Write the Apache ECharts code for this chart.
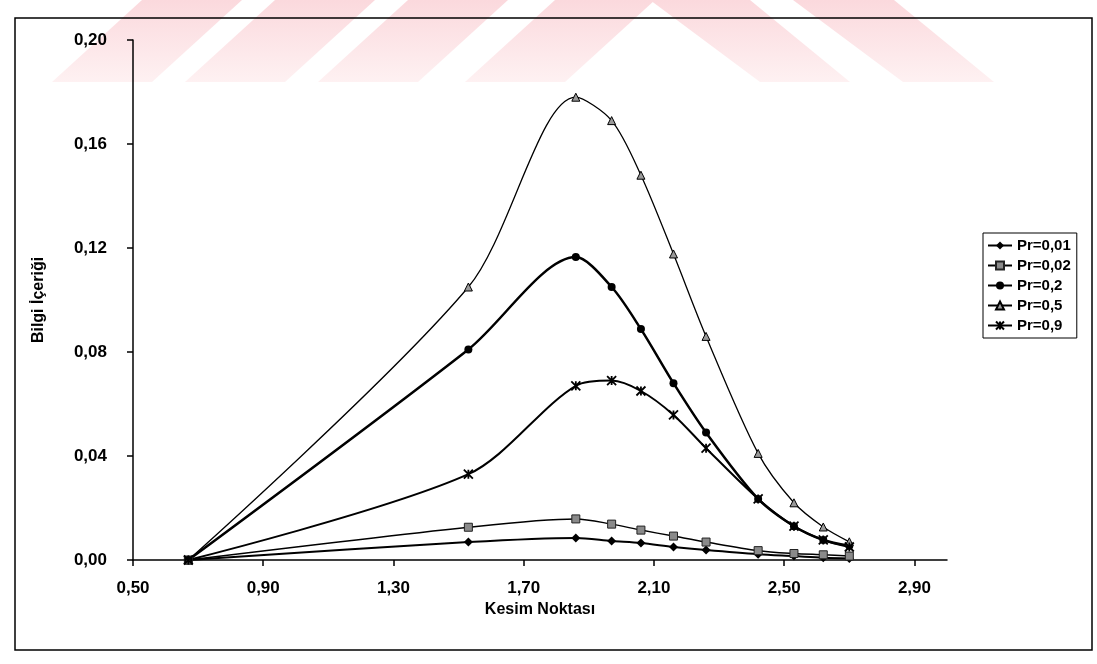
<!DOCTYPE html>
<html lang="tr">
<head>
<meta charset="UTF-8">
<title>Bilgi İçeriği</title>
<script src="https://cdn.jsdelivr.net/npm/echarts@6/dist/echarts.min.js"></script>
<style>
  html, body { margin: 0; padding: 0; background: #fff; }
  #chart { width: 1097px; height: 664px; }
</style>
</head>
<body>
<div id="chart"></div>
<script>
  // kesim noktalari (x)
  var kesim = [0.67, 1.53, 1.86, 1.97, 2.06, 2.16, 2.26, 2.42, 2.53, 2.62, 2.70];
  var xTicks = [0.5, 0.9, 1.3, 1.7, 2.1, 2.5, 2.9];

  // bilgi icerigi, her Pr icin
  var pr001 = [0, 0.0069, 0.0085, 0.0073, 0.0065, 0.0050, 0.0038, 0.0022, 0.0015, 0.0009, 0.0006];
  var pr002 = [0, 0.0126, 0.0158, 0.0138, 0.0115, 0.0092, 0.0069, 0.0036, 0.0025, 0.0020, 0.0015];
  var pr02  = [0, 0.0810, 0.1165, 0.1050, 0.0888, 0.0680, 0.0490, 0.0235, 0.0130, 0.0077, 0.0055];
  var pr05  = [0, 0.1050, 0.1780, 0.1690, 0.1480, 0.1177, 0.0860, 0.0410, 0.0220, 0.0127, 0.0070];
  var pr09  = [0, 0.0330, 0.0670, 0.0690, 0.0650, 0.0558, 0.0430, 0.0235, 0.0130, 0.0077, 0.0050];

  var seriesNames = ['Pr=0,01', 'Pr=0,02', 'Pr=0,2', 'Pr=0,5', 'Pr=0,9'];

  var font = "'Liberation Sans', Arial, sans-serif";
  var crossPath = 'path://M0,0L10,10M10,0L0,10M5,0L5,10';

  function pairs(ys) {
    return ys.map(function (y, i) { return [kesim[i], y]; });
  }

  function comma(v) {
    return v.toFixed(2).replace('.', ',');
  }

  function line(name, ys, symbol, size, width, fill, border, bw) {
    return {
      name: name,
      type: 'line',
      data: pairs(ys),
      smooth: 0.3,
      symbol: symbol,
      symbolSize: size,
      lineStyle: { color: '#000', width: width },
      itemStyle: { color: fill, borderColor: border, borderWidth: bw },
      emphasis: { disabled: true }
    };
  }

  // pembe filigran seritleri (ust kenar)
  var stripes = [];
  [52, 185, 318, 465].forEach(function (a) {
    stripes.push([[a, 82], [a + 100, 82], [a + 190, 0], [a + 90, 0]]);
  });
  [[760, 850], [903, 994]].forEach(function (b) {
    stripes.push([[b[0], 82], [b[1], 82], [b[1] - 100, 0], [b[0] - 110, 0]]);
  });
  var wmColor = new echarts.graphic.LinearGradient(0, 0, 0, 1, [
    { offset: 0, color: '#fbd9dd' },
    { offset: 1, color: '#fef1f2' }
  ]);
  var graphics = stripes.map(function (pts) {
    return { type: 'polygon', z: -10, shape: { points: pts }, style: { fill: wmColor } };
  });
  graphics.push({
    type: 'rect', z: 10,
    shape: { x: 15, y: 18, width: 1077, height: 632 },
    style: { fill: 'none', stroke: '#000', lineWidth: 1.5 }
  });

  var chart = echarts.init(document.getElementById('chart'));
  chart.setOption({
    animation: false,
    backgroundColor: '#fff',
    textStyle: { fontFamily: font },
    graphic: graphics,
    grid: { left: 133, right: 150, top: 40, bottom: 104 },
    legend: {
      orient: 'vertical',
      left: 983,
      top: 233,
      data: seriesNames,
      itemWidth: 24,
      itemHeight: 10,
      itemGap: 5,
      padding: [5, 6, 5, 4],
      borderColor: '#000',
      borderWidth: 1,
      textStyle: { fontFamily: font, fontWeight: 'bold', fontSize: 15, color: '#000' }
    },
    xAxis: {
      type: 'value',
      min: 0.5,
      max: 3.0,
      name: 'Kesim Noktası',
      nameLocation: 'middle',
      nameGap: 41,
      nameTextStyle: { fontFamily: font, fontWeight: 'bold', fontSize: 16, color: '#000' },
      axisLine: { show: true, lineStyle: { color: '#000', width: 1.5 } },
      axisTick: { show: true, length: 6, customValues: xTicks, lineStyle: { color: '#000', width: 1.5 } },
      axisLabel: {
        customValues: xTicks,
        formatter: comma,
        margin: 20,
        fontFamily: font, fontWeight: 'bold', fontSize: 17, color: '#000'
      },
      splitLine: { show: false }
    },
    yAxis: {
      type: 'value',
      min: 0,
      max: 0.2,
      interval: 0.04,
      name: 'Bilgi İçeriği',
      nameLocation: 'middle',
      nameGap: 86,
      nameTextStyle: { fontFamily: font, fontWeight: 'bold', fontSize: 16, color: '#000' },
      axisLine: { show: true, lineStyle: { color: '#000', width: 1.5 } },
      axisTick: { show: true, length: 6, lineStyle: { color: '#000', width: 1.5 } },
      axisLabel: {
        formatter: comma,
        margin: 26,
        fontFamily: font, fontWeight: 'bold', fontSize: 17, color: '#000'
      },
      splitLine: { show: false }
    },
    series: [
      line(seriesNames[0], pr001, 'diamond', 9, 2, '#000', '#000', 0),
      line(seriesNames[1], pr002, 'rect', 8, 1.5, '#8a8a8a', '#222', 1),
      line(seriesNames[2], pr02, 'circle', 8, 2.5, '#000', '#000', 0),
      line(seriesNames[3], pr05, 'triangle', 8, 1.3, '#9a9a9a', '#000', 1),
      line(seriesNames[4], pr09, crossPath, 9, 2, 'none', '#000', 1.8)
    ]
  });
</script>
</body>
</html>
